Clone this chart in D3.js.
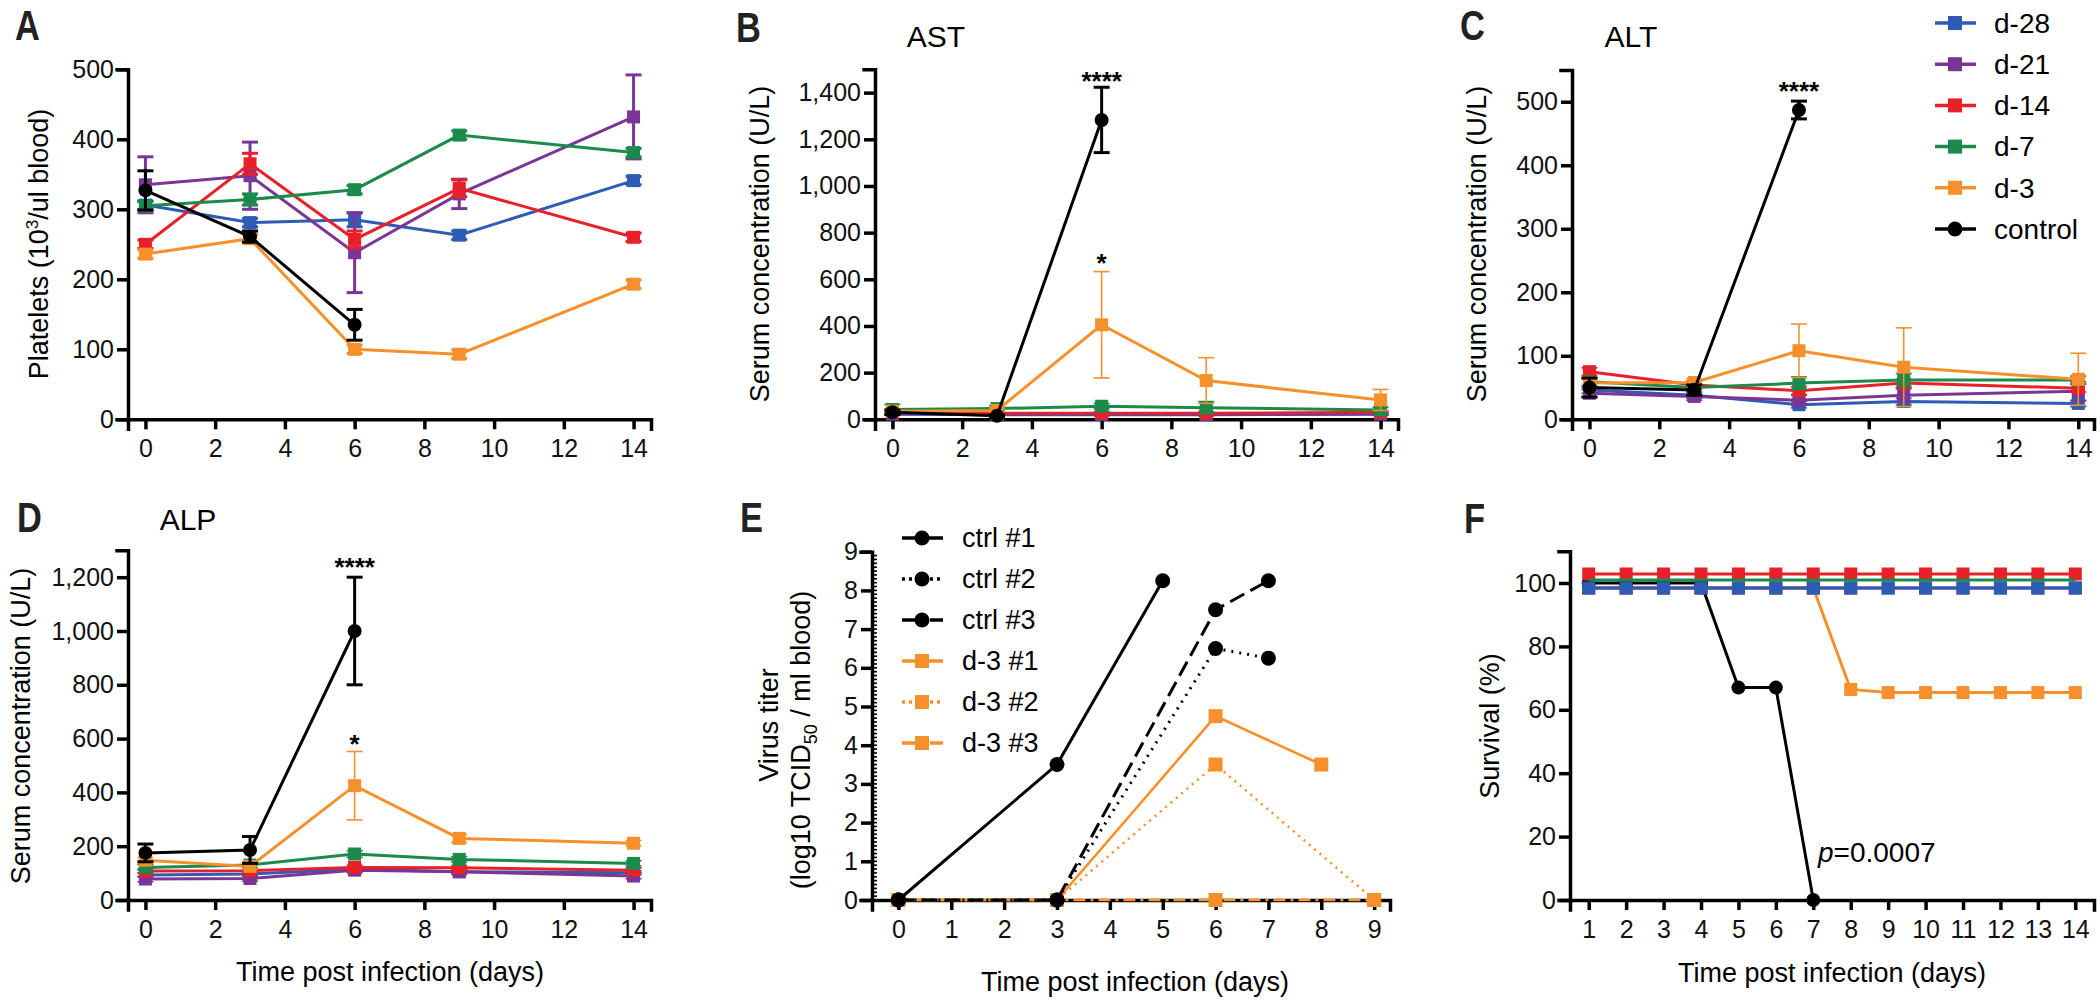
<!DOCTYPE html>
<html>
<head>
<meta charset="utf-8">
<script src="https://cdn.jsdelivr.net/npm/d3@7"></script>
<style>
  body { margin: 0; background: #fff; }
  svg { display: block; }
</style>
</head>
<body>
<div id="outer"></div>
<script>
////////// DATA //////////
const groups = ['d-28', 'd-21', 'd-14', 'd-7', 'd-3', 'control'];
const sampleDays = [0, 3, 6, 9, 14];

// platelets (10^3/ul blood), one row per group
const plateletMean = [
  [306, 281, 285, 263, 341],
  [335, 348, 238, 322, 432],
  [250, 365, 257, 330, 260],
  [305, 314, 328, 406, 381],
  [236, 258, 100, 93, 193],
  [327, 261, 135, null, null]
];
const plateletErr = [
  [6, 6, 10, 6, 6],
  [40, 48, 57, 21, 60],
  [6, 15, 12, 12, 6],
  [6, 8, 6, 6, 6],
  [6, 6, 6, 6, 6],
  [28, 8, 22, null, null]
];

// AST (U/L)
const astMean = [
  [22, 20, 20, 20, 22],
  [26, 22, 24, 22, 24],
  [30, 26, 26, 26, 30],
  [42, 46, 56, 50, 40],
  [35, 38, 405, 166, 83],
  [30, 15, 1283, null, null]
];
const astErr = [
  [5, 5, 5, 5, 5],
  [5, 5, 5, 5, 5],
  [6, 6, 6, 6, 6],
  [22, 12, 12, 26, 12],
  [10, 10, 228, 98, 45],
  [10, 5, 140, null, null]
];

// ALT (U/L)
const altMean = [
  [46, 38, 23, 28, 25],
  [41, 36, 30, 38, 44],
  [75, 54, 45, 57, 49],
  [59, 50, 57, 62, 62],
  [57, 58, 108, 82, 63],
  [50, 46, 487, null, null]
];
const altErr = [
  [5, 5, 5, 5, 5],
  [6, 6, 8, 10, 15],
  [6, 6, 6, 6, 6],
  [6, 6, 10, 10, 6],
  [6, 6, 42, 62, 41],
  [15, 8, 14, null, null]
];

// ALP (U/L)
const alpMean = [
  [93, 97, 114, 105, 101],
  [78, 80, 111, 105, 89],
  [108, 109, 121, 120, 111],
  [121, 130, 171, 151, 136],
  [148, 125, 425, 229, 211],
  [175, 186, 1000, null, null]
];
const alpErr = [
  [8, 8, 8, 8, 8],
  [10, 10, 10, 10, 10],
  [8, 8, 8, 8, 8],
  [10, 10, 12, 10, 10],
  [10, 10, 127, 15, 10],
  [33, 50, 200, null, null]
];

// significance marks: [text, day, value]
const astStars = [['****', 6, 1471], ['*', 6, 691]];
const altStars = [['****', 6, 525]];
const alpStars = [['****', 6, 1258], ['*', 6, 601]];

// virus titer (log10 TCID50 / ml blood)
const titerSeries = ['ctrl #1', 'ctrl #2', 'ctrl #3', 'd-3 #1', 'd-3 #2', 'd-3 #3'];
const titerDays = [
  [0, 3, 5],
  [0, 3, 6, 7],
  [0, 3, 6, 7],
  [0, 3, 6, 8],
  [0, 3, 6, 9],
  [0, 3, 6, 9]
];
const titerValues = [
  [0, 3.5, 8.25],
  [0, 0, 6.5, 6.25],
  [0, 0, 7.5, 8.25],
  [0, 0, 4.75, 3.5],
  [0, 0, 3.5, 0],
  [0, 0, 0, 0]
];

// survival (%)
const survivalDays = [1, 2, 3, 4, 5, 6, 7, 8, 9, 10, 11, 12, 13, 14];
const survival = [
  [100, 100, 100, 100, 100, 100, 100, 100, 100, 100, 100, 100, 100, 100],
  [100, 100, 100, 100, 100, 100, 100, 100, 100, 100, 100, 100, 100, 100],
  [100, 100, 100, 100, 100, 100, 100, 100, 100, 100, 100, 100, 100, 100],
  [100, 100, 100, 100, 100, 100, 100, 100, 100, 100, 100, 100, 100, 100],
  [100, 100, 100, 100, 100, 100, 100, 68, 67, 67, 67, 67, 67, 67],
  [100, 100, 100, 100, 67, 67, 0, null, null, null, null, null, null, null]
];
const survivalP = 'p=0.0007';

const dayTicks = [0, 2, 4, 6, 8, 10, 12, 14];
const titerDayTicks = [0, 1, 2, 3, 4, 5, 6, 7, 8, 9];
const survivalDayTicks = [1, 2, 3, 4, 5, 6, 7, 8, 9, 10, 11, 12, 13, 14];

////////// STYLE //////////
const groupColors = ['#2e5cb5', '#7b3596', '#e8202a', '#1b8a4a', '#f7902a', '#000000'];
const titerColors = ['#000', '#000', '#000', '#f7902a', '#f7902a', '#f7902a'];
const titerDash = [null, '2,6', '16,7', null, '2,5', '12,5,3,5'];
const survivalOffset = [5, 5, -9, -3, 5, 0];   // px nudge so stacked 100% lines stay visible
const FONT = '"Liberation Sans", Arial, Helvetica, sans-serif';
const W = 2100, H = 1001;

const svg = d3.select('#outer').append('svg')
  .attr('width', W).attr('height', H)
  .style('font-family', FONT);

////////// HELPERS //////////
function makePanel(box, xDomain, yDomain) {
  const g = svg.append('g');
  const x = d3.scaleLinear().domain(xDomain).range([box.left, box.right]);
  const y = d3.scaleLinear().domain(yDomain).range([box.bottom, box.top]);
  return { g, x, y, box };
}

function drawAxes(p, xTicks, yTicks, yFormat) {
  const xa = p.g.append('g')
    .attr('transform', `translate(0,${p.box.bottom})`)
    .call(d3.axisBottom(p.x).tickValues(xTicks).tickFormat(d3.format('d'))
      .tickSizeOuter(0).tickSize(10).tickPadding(10));
  const ya = p.g.append('g')
    .attr('transform', `translate(${p.box.left},0)`)
    .call(d3.axisLeft(p.y).tickValues(yTicks).tickFormat(yFormat)
      .tickSizeOuter(0).tickSize(11).tickPadding(3));
  [xa, ya].forEach(a => {
    a.attr('font-family', FONT).attr('font-size', 25);
    a.select('.domain').attr('stroke-width', 3.5).attr('stroke-linecap', 'square');
    a.selectAll('.tick line').attr('stroke-width', 3.5);
    a.selectAll('.tick text').attr('fill', '#111');
  });
  return { xa, ya };
}

function marker(g, shape, cx, cy, size, color) {
  if (shape === 'circle') {
    g.append('circle').attr('cx', cx).attr('cy', cy).attr('r', size / 2).attr('fill', color);
  } else {
    g.append('rect').attr('x', cx - size / 2).attr('y', cy - size / 2)
      .attr('width', size).attr('height', size).attr('fill', color);
  }
}

function drawGroupSeries(p, means, errs, errWidth) {
  groups.forEach((name, i) => {
    const pts = sampleDays.map((d, j) => ({ d, v: means[i][j], e: errs[i][j] }))
      .filter(q => q.v !== null);
    const col = groupColors[i];
    const isCtrl = name === 'control';
    const sg = p.g.append('g').attr('class', 'series');
    const ew = isCtrl ? 3 : errWidth;
    pts.forEach(q => {
      if (!q.e) return;
      const cx = p.x(q.d);
      const yHi = p.y(q.v + q.e), yLo = p.y(Math.max(0, q.v - q.e));
      sg.append('line').attr('x1', cx).attr('x2', cx).attr('y1', yHi).attr('y2', yLo)
        .attr('stroke', col).attr('stroke-width', ew);
      [yHi, yLo].forEach(yy => sg.append('line')
        .attr('x1', cx - 8).attr('x2', cx + 8).attr('y1', yy).attr('y2', yy)
        .attr('stroke', col).attr('stroke-width', ew));
    });
    sg.append('path').datum(pts)
      .attr('d', d3.line().x(q => p.x(q.d)).y(q => p.y(q.v)))
      .attr('fill', 'none').attr('stroke', col).attr('stroke-width', 3);
    pts.forEach(q => marker(sg, isCtrl ? 'circle' : 'square', p.x(q.d), p.y(q.v), isCtrl ? 14 : 13, col));
  });
}

function drawStars(p, stars) {
  stars.forEach(([txt, d, v]) => {
    p.g.append('text').attr('x', p.x(d)).attr('y', p.y(v)).attr('dy', '0.55em')
      .attr('text-anchor', 'middle').attr('font-size', 26).attr('font-weight', 'bold')
      .text(txt);
  });
}

// condensed bold panel letters
function panelLetter(txt, x, y) {
  svg.append('text').attr('transform', `translate(${x},${y}) scale(0.82,1)`)
    .attr('font-size', 42).attr('font-weight', 'bold')
    .attr('fill', '#222').text(txt);
}

function panelTitle(txt, x, y) {
  svg.append('text').attr('x', x).attr('y', y).attr('text-anchor', 'middle')
    .attr('font-size', 30).text(txt);
}

function yTitle(x, y) {
  return svg.append('text')
    .attr('transform', `translate(${x},${y}) rotate(-90)`)
    .attr('text-anchor', 'middle').attr('font-size', 27);
}

function xTitle(txt, x, y) {
  svg.append('text').attr('x', x).attr('y', y).attr('text-anchor', 'middle')
    .attr('font-size', 27).text(txt);
}

const commaFmt = d3.format(',');

////////// PANEL A : platelets //////////
const pA = makePanel({ left: 128, right: 651, top: 69.3, bottom: 419.3 }, [-0.5, 14.5], [0, 500]);
drawAxes(pA, dayTicks, [0, 100, 200, 300, 400, 500], d3.format('d'));
drawGroupSeries(pA, plateletMean, plateletErr, 3);
panelLetter('A', 15, 40);
const tA = yTitle(48, 244);
tA.append('tspan').text('Platelets (10');
tA.append('tspan').attr('font-size', 17).attr('dy', -10).text('3');
tA.append('tspan').attr('dy', 10).text('/ul blood)');

////////// PANEL B : AST //////////
const pB = makePanel({ left: 875, right: 1398, top: 69.3, bottom: 419.3 }, [-0.5, 14.5], [0, 1500]);
drawAxes(pB, dayTicks, [0, 200, 400, 600, 800, 1000, 1200, 1400], commaFmt);
drawGroupSeries(pB, astMean, astErr, 1.6);
drawStars(pB, astStars);
panelLetter('B', 736, 42);
panelTitle('AST', 936, 47);
yTitle(769, 244).text('Serum concentration (U/L)');

////////// PANEL C : ALT //////////
const pC = makePanel({ left: 1572, right: 2094, top: 70, bottom: 419.3 }, [-0.5, 14.45], [0, 550]);
drawAxes(pC, dayTicks, [0, 100, 200, 300, 400, 500], d3.format('d'));
drawGroupSeries(pC, altMean, altErr, 1.6);
drawStars(pC, altStars);
panelLetter('C', 1460, 40);
panelTitle('ALT', 1631, 47);
yTitle(1486, 244).text('Serum concentration (U/L)');

// legend for groups
const legG = svg.append('g');
const legY = d3.scalePoint().domain(groups).range([23, 229]);
groups.forEach((name, i) => {
  const yy = legY(name);
  legG.append('line').attr('x1', 1935).attr('x2', 1976).attr('y1', yy).attr('y2', yy)
    .attr('stroke', groupColors[i]).attr('stroke-width', 3.5);
  marker(legG, name === 'control' ? 'circle' : 'square', 1955, yy, name === 'control' ? 15 : 14, groupColors[i]);
  legG.append('text').attr('x', 1994).attr('y', yy).attr('dy', '0.35em')
    .attr('font-size', 28).text(name);
});

////////// PANEL D : ALP //////////
const pD = makePanel({ left: 128, right: 651, top: 550.3, bottom: 900 }, [-0.5, 14.5], [0, 1300]);
drawAxes(pD, dayTicks, [0, 200, 400, 600, 800, 1000, 1200], commaFmt);
drawGroupSeries(pD, alpMean, alpErr, 1.6);
drawStars(pD, alpStars);
panelLetter('D', 17, 532);
panelTitle('ALP', 188, 530);
yTitle(30, 726).text('Serum concentration (U/L)');
xTitle('Time post infection (days)', 390, 981);

////////// PANEL E : virus titer //////////
const pE = makePanel({ left: 872, right: 1390, top: 551.7, bottom: 900 }, [-0.5, 9.3], [0, 9]);
const axE = drawAxes(pE, titerDayTicks, [0, 1, 2, 3, 4, 5, 6, 7, 8, 9], d3.format('d'));
// minor ticks on the titer axis
axE.ya.selectAll('.minor').data(d3.range(0, 90).map(k => k / 10)).enter().append('line')
  .attr('class', 'minor').attr('x1', 0).attr('x2', 5)
  .attr('y1', d => pE.y(d)).attr('y2', d => pE.y(d))
  .attr('stroke', '#000').attr('stroke-width', 1.6);
panelLetter('E', 740, 532);
svg.append('text')
  .attr('transform', 'translate(778,725) rotate(-90)')
  .attr('text-anchor', 'middle').attr('font-size', 27).text('Virus titer');
const tE2 = yTitle(810, 740);
tE2.append('tspan').text('(log10 TCID');
tE2.append('tspan').attr('font-size', 18).attr('dy', 7).text('50');
tE2.append('tspan').attr('dy', -7).text(' / ml blood)');
xTitle('Time post infection (days)', 1135, 991);

// draw orange replicates first, controls on top
[3, 4, 5, 0, 1, 2].forEach(i => {
  const pts = titerDays[i].map((d, j) => ({ d, v: titerValues[i][j] }));
  const isCtrl = i < 3;
  const sg = pE.g.append('g');
  sg.append('path').datum(pts)
    .attr('d', d3.line().x(q => pE.x(q.d)).y(q => pE.y(q.v)))
    .attr('fill', 'none').attr('stroke', titerColors[i])
    .attr('stroke-width', isCtrl ? 3 : 2.6)
    .attr('stroke-dasharray', titerDash[i]);
  pts.forEach(q => marker(sg, isCtrl ? 'circle' : 'square', pE.x(q.d), pE.y(q.v), isCtrl ? 15 : 14, titerColors[i]));
});

// titer legend
const legE = svg.append('g');
const legEY = d3.scalePoint().domain(titerSeries).range([538, 743]);
titerSeries.forEach((name, i) => {
  const yy = legEY(name);
  const isCtrl = i < 3;
  legE.append('line').attr('x1', 902).attr('x2', 943).attr('y1', yy).attr('y2', yy)
    .attr('stroke', titerColors[i]).attr('stroke-width', 3.5)
    .attr('stroke-dasharray', titerDash[i] ? (i === 1 || i === 4 ? '3,4' : '14,5,4,5') : null);
  marker(legE, isCtrl ? 'circle' : 'square', 922, yy, isCtrl ? 15 : 14, titerColors[i]);
  legE.append('text').attr('x', 962).attr('y', yy).attr('dy', '0.35em')
    .attr('font-size', 27).text(name);
});

////////// PANEL F : survival //////////
const pF = makePanel({ left: 1570, right: 2094, top: 551.3, bottom: 900 }, [0.5, 14.5], [0, 110]);
drawAxes(pF, survivalDayTicks, [0, 20, 40, 60, 80, 100], d3.format('d'));
panelLetter('F', 1464, 533);
yTitle(1499, 726).text('Survival (%)');
xTitle('Time post infection (days)', 1832, 982);

// order: d-3, d-21, control, d-28, d-14, d-7
[4, 1, 5, 0, 2, 3].forEach(i => {
  const pts = survivalDays.map((d, j) => ({ d, v: survival[i][j] })).filter(q => q.v !== null);
  const off = survivalOffset[i];
  const sg = pF.g.append('g');
  const isCtrl = groups[i] === 'control';
  sg.append('path').datum(pts)
    .attr('d', d3.line().x(q => pF.x(q.d)).y(q => pF.y(q.v) + off))
    .attr('fill', 'none').attr('stroke', groupColors[i]).attr('stroke-width', 3);
  if (groups[i] !== 'd-7') {
    pts.forEach(q => marker(sg, isCtrl ? 'circle' : 'square', pF.x(q.d), pF.y(q.v) + off, isCtrl ? 14 : 13, groupColors[i]));
  }
});

const pText = pF.g.append('text').attr('x', 1818).attr('y', pF.y(15)).attr('dy', '0.35em')
  .attr('font-size', 28);
pText.append('tspan').attr('font-style', 'italic').text(survivalP.slice(0, 1));
pText.append('tspan').text(survivalP.slice(1));
</script>
</body>
</html>
